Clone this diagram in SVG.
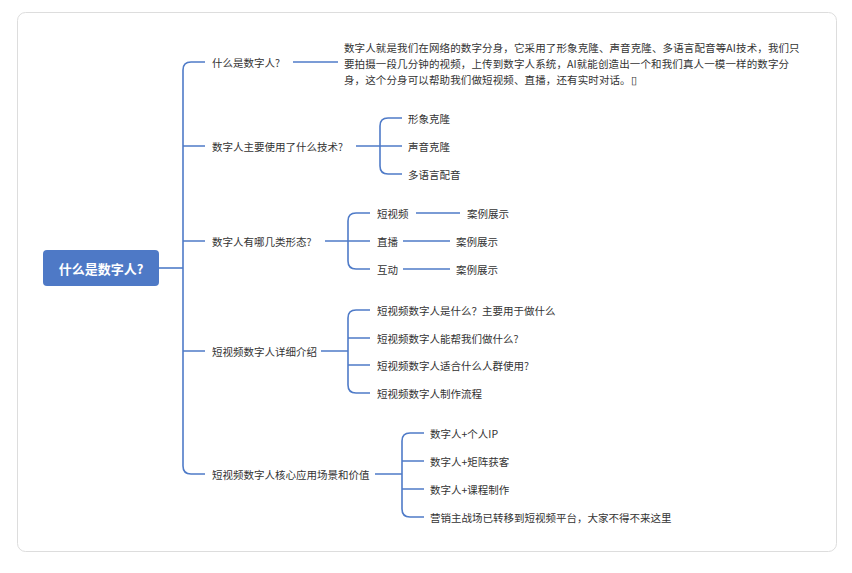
<svg xmlns="http://www.w3.org/2000/svg" width="852" height="573" viewBox="0 0 852 573">
<style>
text{font-family:"Noto Sans CJK SC","Noto Sans",sans-serif;font-size:10.5px;fill:#333;dominant-baseline:central}
.c{fill:none;stroke:#4f7bc8;stroke-width:1.6}
</style>
<rect x="0" y="0" width="852" height="573" fill="#fff"/>
<rect x="17.5" y="12.5" width="819" height="539" rx="8" fill="#fff" stroke="#ddd"/>
<g id="connectors" class="c">
<path d="M159 268H183"/>
<path d="M205 62H191Q183 62 183 70V466Q183 474 191 474H205"/>
<path d="M183 146Q183 146 191 146H205M183 241H205M183 351H205"/>
<path d="M293 62H338"/>
<path d="M356 146H380M402 118H388Q380 118 380 126V166Q380 174 388 174H402M380 146H402"/>
<path d="M325 241H348M370 213H356Q348 213 348 221V261Q348 269 356 269H370M348 241H370"/>
<path d="M416 213H460M403 241H450M403 269H450"/>
<path d="M321 351H348M370 310H356Q348 310 348 318V385Q348 393 356 393H370M348 338H370M348 365H370"/>
<path d="M375 474H402M424 433H410Q402 433 402 441V509Q402 517 410 517H424M402 461H424M402 489H424"/>
</g>
<g id="root"><rect x="43" y="250" width="116" height="36" rx="4" fill="#4e79c6"/><text x="101" y="268" text-anchor="middle" style="fill:#fff;font-size:13px;font-weight:bold">什么是数字人?</text></g>
<g id="n1"><text x="212" y="62">什么是数字人?</text></g>
<g id="n1a" style="letter-spacing:0.12px"><text x="344" y="47">数字人就是我们在网络的数字分身，它采用了形象克隆、声音克隆、多语言配音等AI技术，我们只</text><text x="344" y="63">要拍摄一段几分钟的视频，上传到数字人系统，AI就能创造出一个和我们真人一模一样的数字分</text><text x="344" y="79">身，这个分身可以帮助我们做短视频、直播，还有实时对话。&#x25AF;</text></g>
<g id="n2"><text x="212" y="146">数字人主要使用了什么技术?</text></g>
<g id="n2a"><text x="408" y="118">形象克隆</text></g>
<g id="n2b"><text x="408" y="146">声音克隆</text></g>
<g id="n2c"><text x="408" y="174">多语言配音</text></g>
<g id="n3"><text x="212" y="241">数字人有哪几类形态?</text></g>
<g id="n3a"><text x="377" y="213">短视频</text><text x="467" y="213">案例展示</text></g>
<g id="n3b"><text x="377" y="241">直播</text><text x="456" y="241">案例展示</text></g>
<g id="n3c"><text x="377" y="269">互动</text><text x="456" y="269">案例展示</text></g>
<g id="n4"><text x="212" y="351">短视频数字人详细介绍</text></g>
<g id="n4a"><text x="377" y="310">短视频数字人是什么？主要用于做什么</text></g>
<g id="n4b"><text x="377" y="338">短视频数字人能帮我们做什么?</text></g>
<g id="n4c"><text x="377" y="365">短视频数字人适合什么人群使用?</text></g>
<g id="n4d"><text x="377" y="393">短视频数字人制作流程</text></g>
<g id="n5"><text x="212" y="474">短视频数字人核心应用场景和价值</text></g>
<g id="n5a"><text x="430" y="433">数字人+个人IP</text></g>
<g id="n5b"><text x="430" y="461">数字人+矩阵获客</text></g>
<g id="n5c"><text x="430" y="489">数字人+课程制作</text></g>
<g id="n5d"><text x="430" y="517">营销主战场已转移到短视频平台，大家不得不来这里</text></g>
</svg>
